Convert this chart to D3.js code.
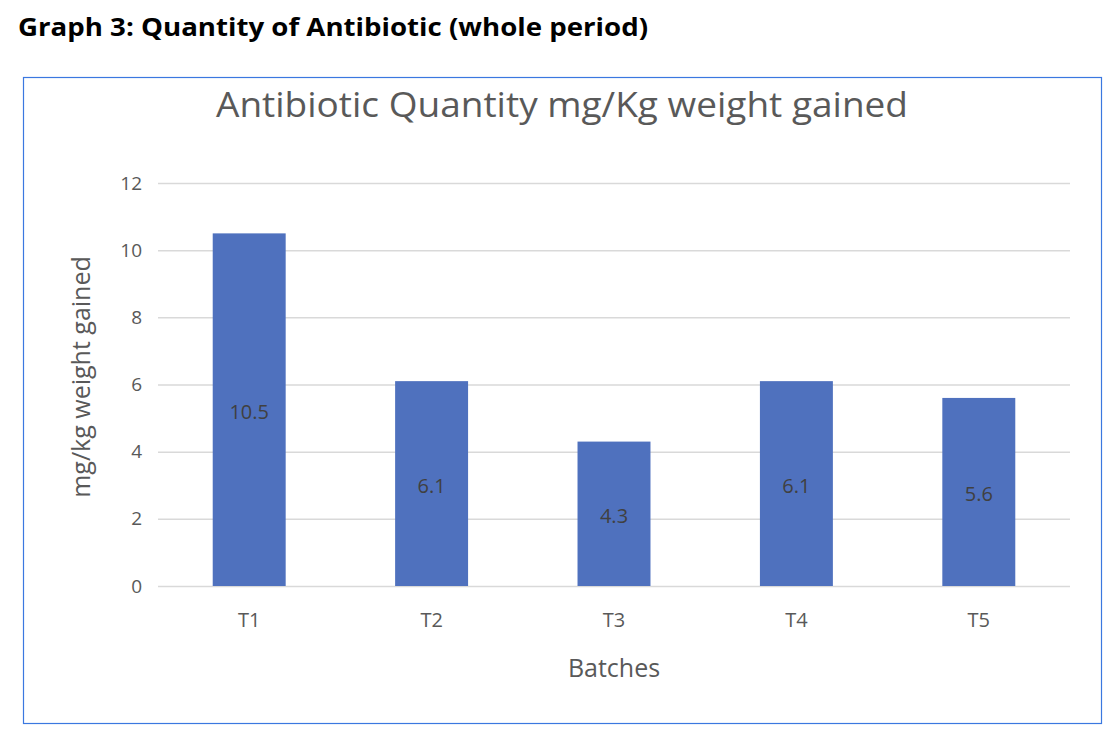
<!DOCTYPE html>
<html><head><meta charset="utf-8">
<script src="https://cdn.jsdelivr.net/npm/d3@7"></script>
<style>body{margin:0;background:#fff;} text{font-family:"Open Sans","Noto Sans",sans-serif;}</style>
</head><body>
<svg id="c" width="1118" height="740"></svg>
<script>
const categories = ["T1","T2","T3","T4","T5"];
const values = [10.5, 6.1, 4.3, 6.1, 5.6];
const yTicks = [0,2,4,6,8,10,12];

const svg = d3.select("#c");
svg.append("text").attr("x",18).attr("y",36).attr("font-size",25).attr("font-weight","bold")
  .attr("fill","#000").attr("textLength",630).attr("lengthAdjust","spacingAndGlyphs")
  .text("Graph 3: Quantity of Antibiotic (whole period)");

svg.append("rect").attr("x",23.5).attr("y",77.5).attr("width",1078).attr("height",646)
  .attr("fill","#fff").attr("stroke","#3B78E0").attr("stroke-width",1.2);

const x = d3.scaleBand().domain(categories).range([158,1070]).paddingInner(0.6).paddingOuter(0.3);
const y = d3.scaleLinear().domain([0,12]).range([586,183]);

svg.append("text").attr("x",562).attr("y",117).attr("text-anchor","middle").attr("font-size",34)
  .attr("fill","#595959").attr("textLength",692).attr("lengthAdjust","spacingAndGlyphs")
  .text("Antibiotic Quantity mg/Kg weight gained");

const ga = svg.append("g").attr("transform","translate(158,0)")
  .call(d3.axisLeft(y).tickValues(yTicks).tickSize(-912).tickPadding(16));
ga.select(".domain").remove();
ga.selectAll("line").attr("stroke","#D9D9D9").attr("stroke-width",1.5);
ga.selectAll("text").attr("font-size",19).attr("fill","#595959").style("font-family","'Open Sans',sans-serif");

svg.selectAll("rect.bar").data(values).join("rect").attr("class","bar")
  .attr("x",(d,i)=>x(categories[i])).attr("width",x.bandwidth())
  .attr("y",d=>y(d)).attr("height",d=>y(0)-y(d)).attr("fill","#4F71BE");

svg.selectAll("text.lbl").data(values).join("text").attr("class","lbl")
  .attr("x",(d,i)=>x(categories[i])+x.bandwidth()/2)
  .attr("y",d=>(y(d)+y(0))/2+9).attr("text-anchor","middle")
  .attr("font-size",20).attr("fill","#404040").text(d=>d);

const gx = svg.append("g").attr("transform","translate(0,586)")
  .call(d3.axisBottom(x).tickSize(0).tickPadding(27));
gx.select(".domain").remove();
gx.selectAll("text").attr("font-size",20).attr("fill","#595959").style("font-family","'Open Sans',sans-serif");

svg.append("text").attr("x",614).attr("y",677).attr("text-anchor","middle").attr("font-size",25)
  .attr("fill","#595959").text("Batches");

svg.append("text").attr("transform","translate(90,377) rotate(-90)").attr("text-anchor","middle")
  .attr("font-size",25).attr("fill","#595959").text("mg/kg weight gained");
</script>
</body></html>
